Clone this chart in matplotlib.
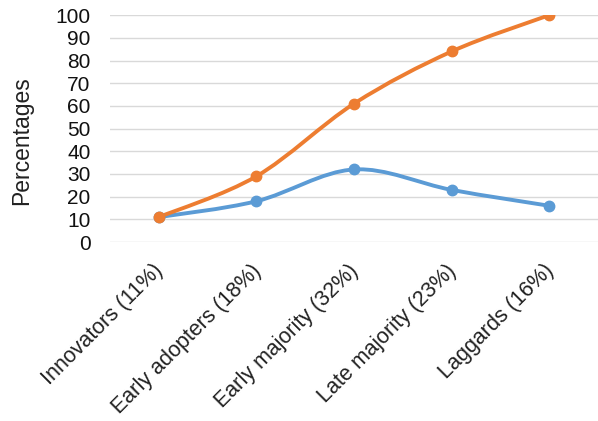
import numpy as np
import matplotlib.pyplot as plt
import matplotlib.transforms as mtransforms
from matplotlib.path import Path
from matplotlib.patches import PathPatch

plt.rcParams['font.family'] = ['Liberation Sans', 'DejaVu Sans']

categories = ['Innovators (11%)', 'Early adopters (18%)', 'Early majority (32%)',
              'Late majority (23%)', 'Laggards (16%)']
share = [11, 18, 32, 23, 16]          # blue
cumulative = [11, 29, 61, 84, 100]    # orange

blue = '#5B9BD5'
orange = '#ED7D31'


def smooth_path(xs, ys, t=1/6):
    # Catmull-Rom style bezier, like Excel "smoothed line"
    xs = np.asarray(xs, float)
    ys = np.asarray(ys, float)
    pts = np.column_stack([xs, ys])
    verts = [pts[0]]
    codes = [Path.MOVETO]
    n = len(pts)
    for i in range(n - 1):
        p0 = pts[i - 1] if i > 0 else pts[i]
        p1 = pts[i]
        p2 = pts[i + 1]
        p3 = pts[i + 2] if i + 2 < n else pts[i + 1]
        c1 = p1 + (p2 - p0) * t
        c2 = p2 - (p3 - p1) * t
        verts += [c1, c2, p2]
        codes += [Path.CURVE4] * 3
    return Path(verts, codes)


fig = plt.figure(figsize=(5.98, 4.21), dpi=100)
ax = fig.add_axes([0.184, 0.425, 0.816, 0.539])

x = np.arange(len(categories))
for ys, c in [(share, blue), (cumulative, orange)]:
    ax.add_patch(PathPatch(smooth_path(x, ys), facecolor='none', edgecolor=c,
                           lw=2.8, capstyle='round', zorder=3))
    ax.plot(x, ys, 'o', color=c, ms=7.5, zorder=4)

ax.set_xlim(-0.5, 4.5)
ax.set_ylim(0, 100)
ax.set_yticks(range(0, 101, 10))
ax.grid(axis='y', color='#d9d9d9', lw=1)
ax.set_axisbelow(True)
for s in ax.spines.values():
    s.set_visible(False)
ax.tick_params(axis='y', length=0, pad=14, labelsize=15, labelcolor='#111111')
ax.tick_params(axis='x', length=0, pad=13, labelsize=15.5, labelcolor='#222222')
ax.set_xticks(x)
ax.set_xticklabels(categories, rotation=45, ha='right', rotation_mode='anchor')
shift = mtransforms.ScaledTranslation(-0.06, 0, fig.dpi_scale_trans)
for lab in ax.get_xticklabels():
    lab.set_transform(lab.get_transform() + shift)
ax.set_ylabel('Percentages', fontsize=16.5, color='#222222')
ax.yaxis.set_label_coords(-0.158, 0.449)

fig.savefig('out.png', dpi=100)
